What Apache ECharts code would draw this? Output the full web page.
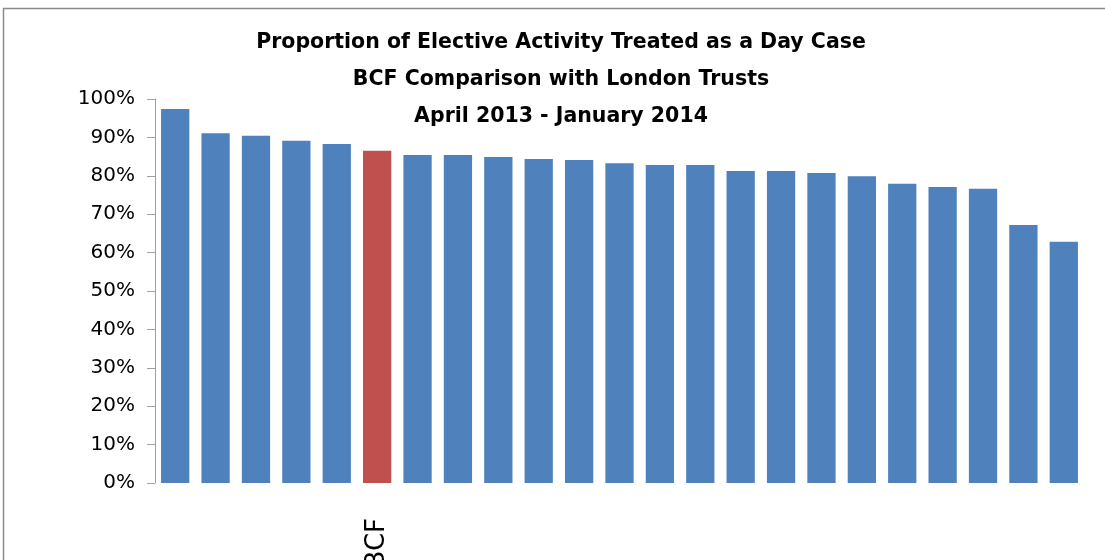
<!DOCTYPE html>
<html>
<head>
<meta charset="utf-8">
<script src="https://cdn.jsdelivr.net/npm/echarts@6/dist/echarts.min.js"></script>
<style>
  html, body { margin: 0; padding: 0; background: #ffffff; overflow: hidden; }
  #chart { width: 1105px; height: 560px; }
</style>
</head>
<body>
<div id="chart"></div>
<script>
// Trusts ranked by share of elective activity treated as a day case (%)
const categories = ['', '', '', '', '', 'BCF', '', '', '', '', '', '', '', '', '', '', '', '', '', '', '', '', ''];
const dayCaseShare = [97.4, 91.1, 90.4, 89.1, 88.3, 86.5, 85.4, 85.4, 84.9, 84.4, 84.1, 83.3, 82.8, 82.8, 81.25, 81.25, 80.7, 79.9, 77.9, 77.1, 76.6, 67.2, 62.8];
const titleLines = [
  'Proportion of Elective Activity Treated as a Day Case',
  'BCF Comparison with London Trusts',
  'April 2013 - January 2014'
];
const highlightName = 'BCF';

const chart = echarts.init(document.getElementById('chart'));

const barData = dayCaseShare.map((v, i) => ({
  value: v,
  itemStyle: { color: categories[i] === highlightName ? '#C0504D' : '#4F81BD' }
}));

chart.setOption({
  animation: false,
  backgroundColor: '#ffffff',
  title: {
    text: titleLines.join('\n'),
    left: 556,
    textAlign: 'center',
    top: 19,
    textStyle: {
      fontFamily: 'DejaVu Sans',
      fontWeight: 'bold',
      fontSize: 20.5,
      lineHeight: 37,
      color: '#000000'
    }
  },
  graphic: [{
    type: 'rect',
    silent: true,
    shape: { x: 3.5, y: 8.5, width: 1200, height: 700 },
    style: { fill: 'none', stroke: '#8a8a8a', lineWidth: 1.5 }
  }],
  grid: {
    left: 155, right: 21, top: 99, bottom: 77,
    containLabel: false,
    outerBoundsMode: 'none'
  },
  xAxis: {
    type: 'category',
    data: categories,
    axisLine: { show: false },
    axisTick: { show: false },
    axisLabel: {
      interval: 0,
      rotate: 90,
      margin: 35,
      fontFamily: 'DejaVu Sans',
      fontSize: 26,
      color: '#000000'
    }
  },
  yAxis: {
    type: 'value',
    min: 0,
    max: 100,
    interval: 10,
    axisLine: { show: true, lineStyle: { color: '#a0a0a0', width: 1 } },
    axisTick: { show: true, length: 8, lineStyle: { color: '#a0a0a0' } },
    splitLine: { show: false },
    axisLabel: {
      formatter: '{value}%',
      margin: 20,
      padding: [5, 0, 0, 0],
      fontFamily: 'DejaVu Sans',
      fontSize: 20,
      color: '#000000'
    }
  },
  series: [{
    type: 'bar',
    data: barData,
    barCategoryGap: '30%'
  }]
});
</script>
</body>
</html>
